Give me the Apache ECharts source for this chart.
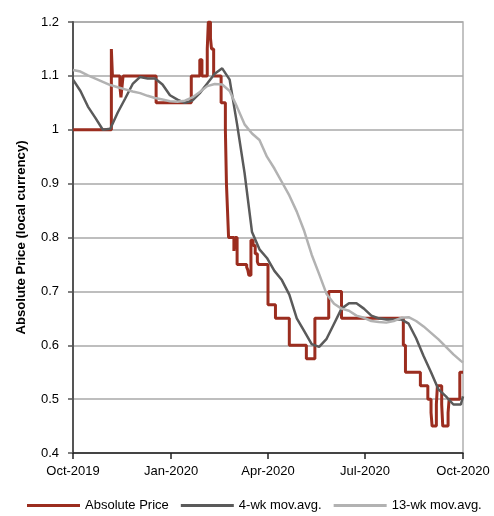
<!DOCTYPE html>
<html><head><meta charset="utf-8">
<script src="https://cdn.jsdelivr.net/npm/echarts@6/dist/echarts.min.js"></script>
<style>html,body{margin:0;padding:0;background:#fff}#c{width:494px;height:516px}</style>
</head><body><div id="c"></div>
<script>
const seriesNames = ['Absolute Price', '4-wk mov.avg.', '13-wk mov.avg.'];
const xTickLabels = ['2019-10-01', '2020-01-01', '2020-04-01', '2020-07-01', '2020-10-01'];
const yTicks = [0.4, 0.5, 0.6, 0.7, 0.8, 0.9, 1.0, 1.1, 1.2];

const priceDates = ['2019-10-01','2019-11-06','2019-11-07','2019-11-14','2019-11-15','2019-11-16','2019-11-17','2019-12-18',
 '2020-01-20','2020-01-28','2020-01-30','2020-02-04','2020-02-05','2020-02-07','2020-02-08','2020-02-10','2020-02-17',
 '2020-02-21','2020-02-22','2020-02-23','2020-02-24','2020-02-29','2020-03-01','2020-03-03','2020-03-12','2020-03-13',
 '2020-03-14','2020-03-16','2020-03-18','2020-03-20','2020-03-22','2020-03-23','2020-04-01','2020-04-08','2020-04-21',
 '2020-05-07','2020-05-15','2020-05-28','2020-06-09','2020-08-06','2020-08-08','2020-08-22','2020-08-29','2020-09-01',
 '2020-09-02','2020-09-06','2020-09-07','2020-09-11','2020-09-12','2020-09-17','2020-09-18','2020-09-28','2020-10-01'];
const priceValues = [1.0,1.15,1.1,1.08,1.06,1.08,1.1,1.05,
 1.1,1.13,1.1,1.15,1.2,1.17,1.15,1.1,1.05,
 1.0,0.9,0.85,0.8,0.775,0.8,0.75,0.745,0.74,
 0.73,0.795,0.785,0.77,0.755,0.75,0.675,0.65,0.6,
 0.575,0.65,0.7,0.65,0.6,0.55,0.525,0.5,0.475,
 0.45,0.49,0.525,0.49,0.45,0.475,0.5,0.55,0.55];

const maDates = ['2019-10-01','2019-10-08','2019-10-15','2019-10-22','2019-10-29','2019-11-05','2019-11-12','2019-11-19',
 '2019-11-26','2019-12-03','2019-12-10','2019-12-17','2019-12-24','2019-12-31','2020-01-07','2020-01-14','2020-01-21',
 '2020-01-28','2020-02-04','2020-02-11','2020-02-18','2020-02-25','2020-03-03','2020-03-10','2020-03-17','2020-03-24',
 '2020-03-31','2020-04-07','2020-04-14','2020-04-21','2020-04-28','2020-05-05','2020-05-12','2020-05-19','2020-05-26',
 '2020-06-02','2020-06-09','2020-06-16','2020-06-23','2020-06-30','2020-07-07','2020-07-14','2020-07-21','2020-07-28',
 '2020-08-04','2020-08-11','2020-08-18','2020-08-25','2020-09-01','2020-09-08','2020-09-15','2020-09-22','2020-09-29','2020-10-01'];
const ma4Values = [1.093,1.072,1.043,1.022,1.0,1.002,1.032,1.058,
 1.085,1.098,1.095,1.095,1.084,1.064,1.056,1.05,1.054,
 1.068,1.086,1.104,1.114,1.093,1.01,0.92,0.81,0.778,
 0.762,0.738,0.721,0.694,0.65,0.626,0.602,0.597,0.612,
 0.64,0.668,0.678,0.678,0.668,0.655,0.65,0.648,0.648,
 0.648,0.64,0.613,0.58,0.55,0.518,0.505,0.49,0.49,0.505];
const ma13Values = [1.111,1.108,1.101,1.095,1.089,1.083,1.079,1.075,
 1.071,1.068,1.063,1.059,1.056,1.053,1.052,1.054,1.06,
 1.07,1.081,1.085,1.084,1.072,1.042,1.01,0.993,0.981,
 0.95,0.928,0.903,0.878,0.848,0.812,0.768,0.732,0.695,
 0.677,0.668,0.664,0.655,0.651,0.645,0.643,0.642,0.645,
 0.651,0.652,0.645,0.635,0.623,0.611,0.597,0.583,0.571,0.568];

const colors = ['#9b2d1f', '#5a5a5a', '#b2b2b2'];
const FONT = '"Liberation Sans", Arial, sans-serif';
const ts = s => new Date(s + 'T00:00:00Z').getTime();
const mon = ['Jan','Feb','Mar','Apr','May','Jun','Jul','Aug','Sep','Oct','Nov','Dec'];
const pair = (ds, vs) => ds.map((d, i) => [ts(d), vs[i]]);
const tickTs = xTickLabels.map(ts);

const chart = echarts.init(document.getElementById('c'), null, {renderer: 'canvas'});
chart.setOption({
  animation: false,
  color: colors,
  textStyle: {fontFamily: FONT},
  grid: {left: 73, right: 31, top: 22, bottom: 63, show: true, borderColor: '#b0b0b0', borderWidth: 1.5, containLabel: false},
  legend: {
    data: seriesNames, left: 22, top: 494, icon: 'rect', itemWidth: 53, itemHeight: 3, itemGap: 12,
    textStyle: {fontFamily: FONT, fontSize: 13, color: '#000'}
  },
  xAxis: {
    type: 'value', min: tickTs[0], max: tickTs[tickTs.length - 1], scale: true,
    axisLine: {show: true, lineStyle: {color: '#222', width: 1.5}},
    axisTick: {show: true, customValues: tickTs, length: 6, lineStyle: {color: '#222', width: 1.5}},
    axisLabel: {
      customValues: tickTs, margin: 12, color: '#000', fontSize: 13, fontFamily: FONT, hideOverlap: false,
      showMinLabel: true, showMaxLabel: true,
      formatter: v => { const d = new Date(v); return mon[d.getUTCMonth()] + '-' + d.getUTCFullYear(); }
    },
    splitLine: {show: false}
  },
  yAxis: {
    type: 'value', min: yTicks[0], max: yTicks[yTicks.length - 1], interval: 0.1,
    name: 'Absolute Price (local currency)', nameLocation: 'middle', nameGap: 45,
    nameTextStyle: {fontFamily: FONT, fontSize: 13.2, fontWeight: 'bold', color: '#000'},
    axisLine: {show: true, lineStyle: {color: '#555', width: 2}},
    axisTick: {show: true, length: 5, lineStyle: {color: '#555', width: 1.5}},
    axisLabel: {margin: 14, color: '#000', fontSize: 13, fontFamily: FONT},
    splitLine: {show: true, lineStyle: {color: '#a8a8a8', width: 1.5}}
  },
  series: [
    {name: seriesNames[0], type: 'line', step: 'end', showSymbol: false, symbol: 'none',
     lineStyle: {width: 3, color: colors[0]}, data: pair(priceDates, priceValues)},
    {name: seriesNames[1], type: 'line', showSymbol: false, symbol: 'none',
     lineStyle: {width: 2.5, color: colors[1]}, data: pair(maDates, ma4Values)},
    {name: seriesNames[2], type: 'line', showSymbol: false, symbol: 'none',
     lineStyle: {width: 2.5, color: colors[2]}, data: pair(maDates, ma13Values)}
  ]
});
</script></body></html>
